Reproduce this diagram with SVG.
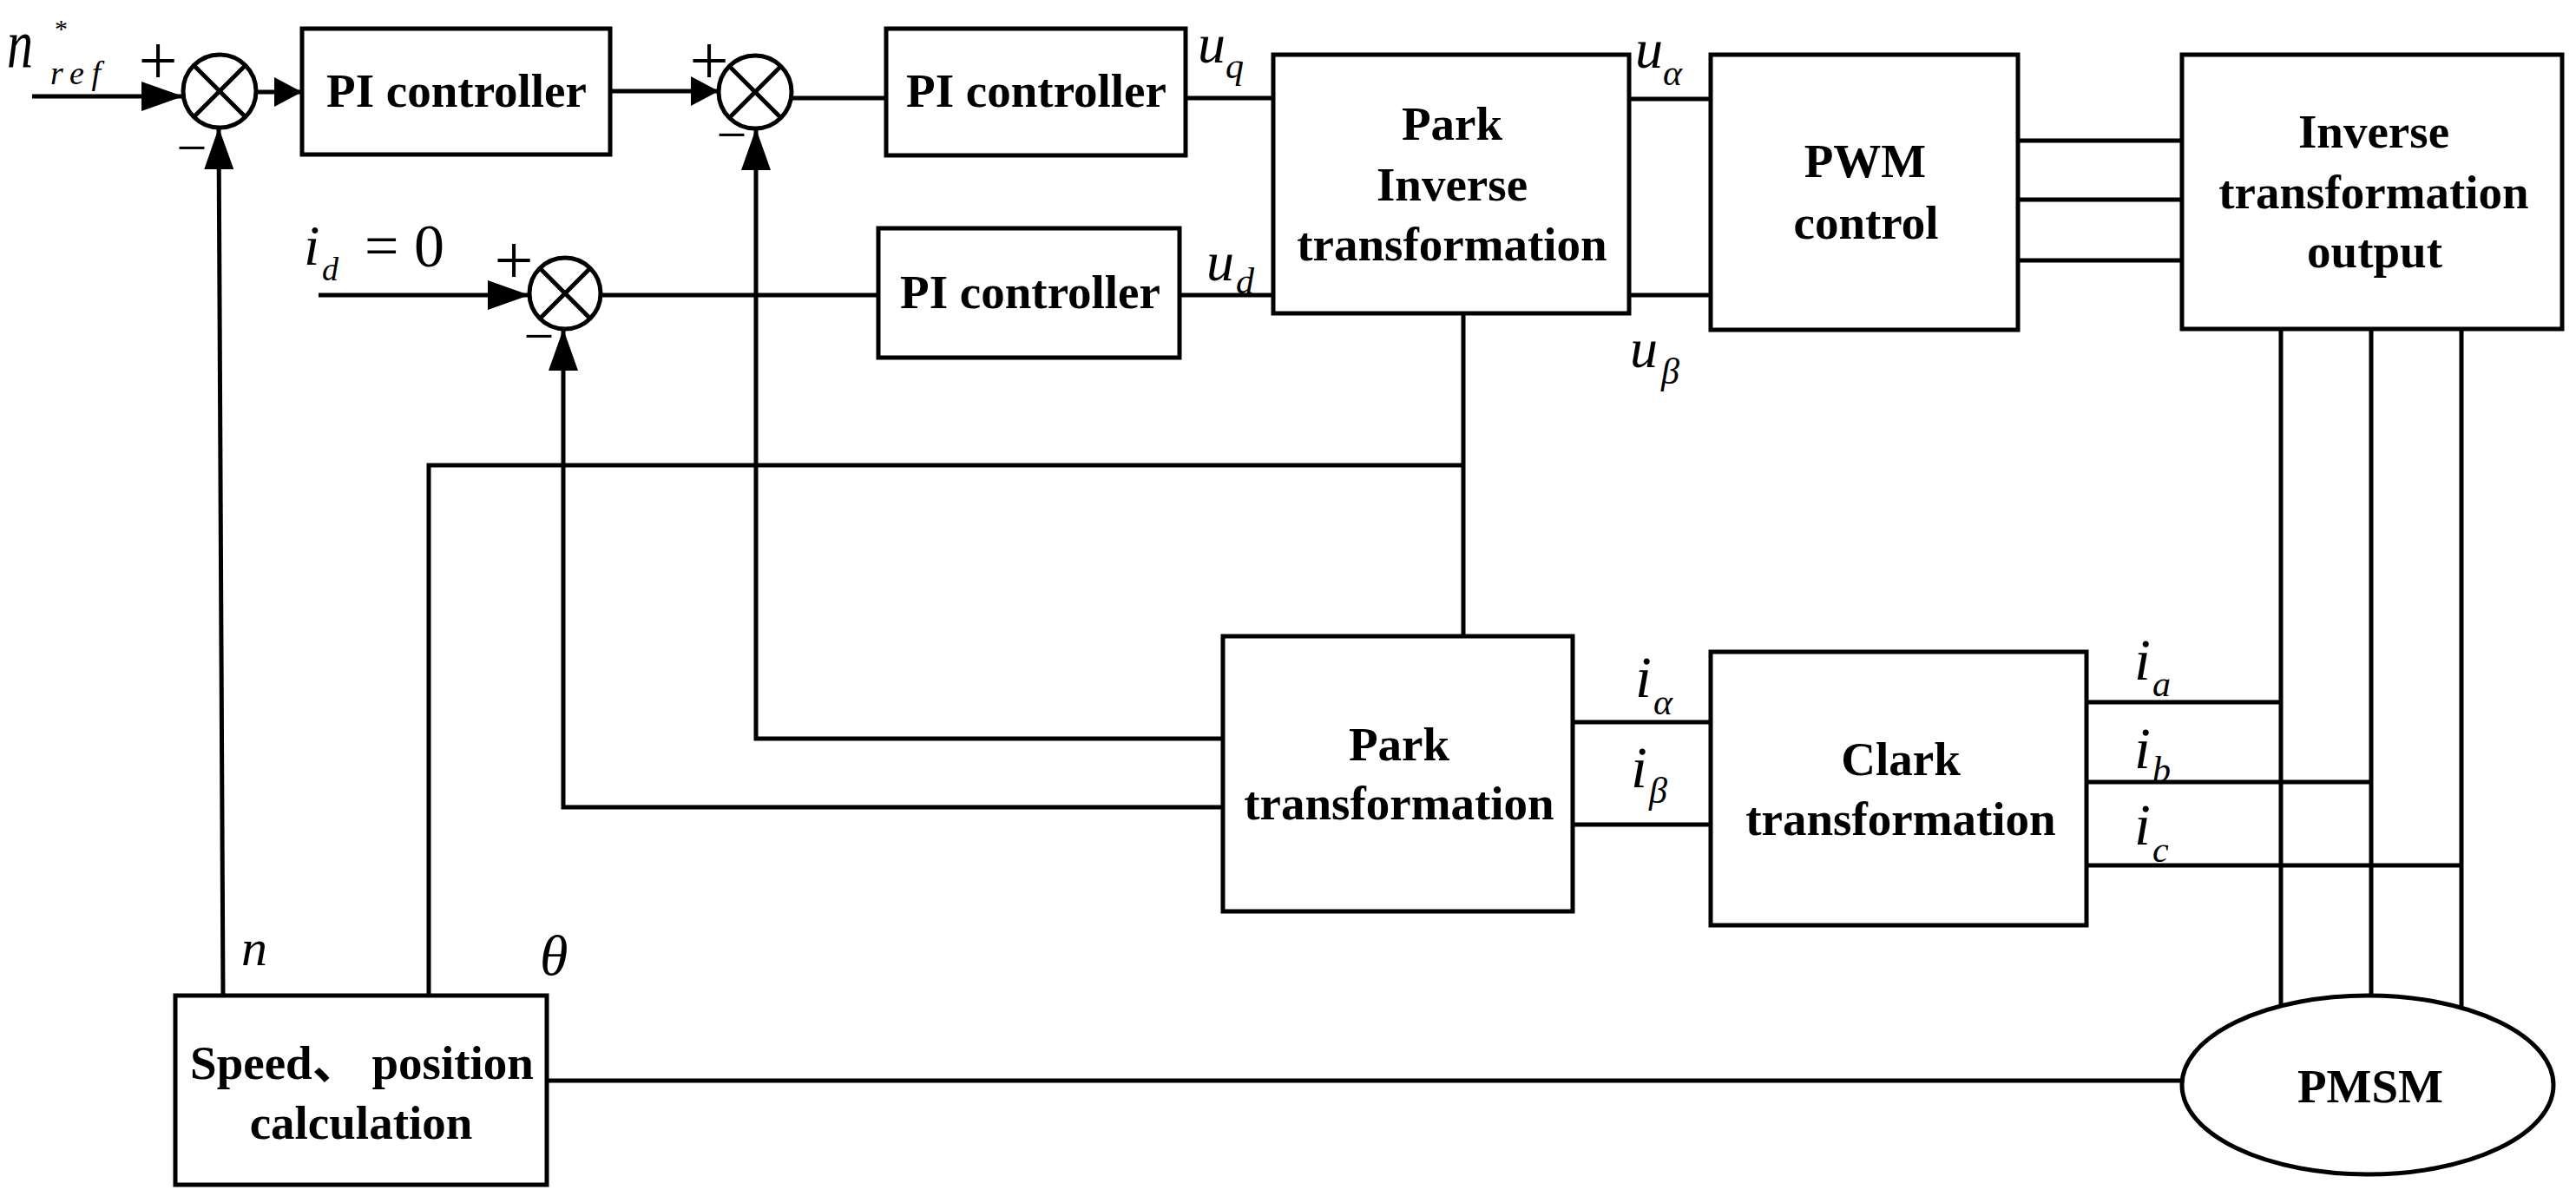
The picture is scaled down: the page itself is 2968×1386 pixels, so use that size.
<svg xmlns="http://www.w3.org/2000/svg" width="2968" height="1386" viewBox="0 0 2968 1386">
<style>
.box{fill:#fff;stroke:#000;stroke-width:5}
.ln{fill:none;stroke:#000;stroke-width:5}
.x{stroke:#000;stroke-width:5}
.t{font-family:"Liberation Serif","Times New Roman","Noto Sans CJK SC",serif;font-weight:bold;font-size:55px;text-anchor:middle;fill:#000}
.m{font-family:"Liberation Serif","Times New Roman",serif;font-style:italic;font-size:64px;fill:#000}
.s{font-family:"Liberation Serif","Times New Roman",serif;font-style:italic;font-size:42px;fill:#000}
.sg{font-family:"Liberation Serif","Times New Roman",serif;font-size:80px;text-anchor:middle;fill:#000}
.mi{font-family:"Liberation Serif","Times New Roman",serif;font-size:62px;text-anchor:middle;fill:#000}
.r{font-family:"Liberation Serif","Times New Roman",serif;font-size:68px;fill:#000}
</style>
<defs>
<marker id="ah" markerUnits="userSpaceOnUse" viewBox="0 0 48 34" markerWidth="48" markerHeight="34" refX="48" refY="17" orient="auto"><path d="M0,0L48,17L0,34z" fill="#000"/></marker>
<marker id="ahs" markerUnits="userSpaceOnUse" viewBox="0 0 32 34" markerWidth="32" markerHeight="34" refX="32" refY="17" orient="auto"><path d="M0,0L32,17L0,34z" fill="#000"/></marker>
</defs>
<rect width="2968" height="1386" fill="#fff"/>
<g id="connectors">
<path class="ln" d="M37,111H211" marker-end="url(#ah)"/>
<path class="ln" d="M295,106H348" marker-end="url(#ahs)"/>
<path class="ln" d="M703,105H828" marker-end="url(#ahs)"/>
<path class="ln" d="M911,113H1021"/>
<path class="ln" d="M1366,113H1467"/>
<path class="ln" d="M367,340H610" marker-end="url(#ah)"/>
<path class="ln" d="M692,340H1012"/>
<path class="ln" d="M1359,340H1467"/>
<path class="ln" d="M1877,114H1971"/>
<path class="ln" d="M1877,340H1971"/>
<path class="ln" d="M2325,162H2514"/>
<path class="ln" d="M2325,230H2514"/>
<path class="ln" d="M2325,300H2514"/>
<path class="ln" d="M2628,379V1159"/>
<path class="ln" d="M2732,379V1147"/>
<path class="ln" d="M2836,379V1161"/>
<path class="ln" d="M1686,361V733"/>
<path class="ln" d="M494,1147V536H1686"/>
<path class="ln" d="M257,1147L252,147" marker-end="url(#ah)"/>
<path class="ln" d="M1409,851H871V148" marker-end="url(#ah)"/>
<path class="ln" d="M1409,930H649V379" marker-end="url(#ah)"/>
<path class="ln" d="M1812,832H1971"/>
<path class="ln" d="M1812,950H1971"/>
<path class="ln" d="M2404,809H2628"/>
<path class="ln" d="M2404,901H2732"/>
<path class="ln" d="M2404,997H2836"/>
<path class="ln" d="M630,1245H2514"/>
</g>
<g id="sum1">
<circle class="box" cx="253" cy="105" r="42"/>
<line class="x" x1="224" y1="76" x2="282" y2="134"/>
<line class="x" x1="282" y1="76" x2="224" y2="134"/>
</g>
<g id="sum2">
<circle class="box" cx="870" cy="106" r="42"/>
<line class="x" x1="841" y1="77" x2="899" y2="135"/>
<line class="x" x1="899" y1="77" x2="841" y2="135"/>
</g>
<g id="sum3">
<circle class="box" cx="651" cy="338" r="41"/>
<line class="x" x1="622" y1="309" x2="680" y2="367"/>
<line class="x" x1="680" y1="309" x2="622" y2="367"/>
</g>
<g id="pi1">
<rect class="box" x="348" y="33" width="355" height="145"/>
<text class="t" x="526" y="123">PI controller</text>
</g>
<g id="pi2">
<rect class="box" x="1021" y="33" width="345" height="146"/>
<text class="t" x="1194" y="123">PI controller</text>
</g>
<g id="pi3">
<rect class="box" x="1012" y="263" width="347" height="149"/>
<text class="t" x="1187" y="355">PI controller</text>
</g>
<g id="parkinv">
<rect class="box" x="1467" y="63" width="410" height="298"/>
<text class="t" x="1673" y="161">Park</text>
<text class="t" x="1673" y="231">Inverse</text>
<text class="t" x="1673" y="300">transformation</text>
</g>
<g id="pwm">
<rect class="box" x="1971" y="63" width="354" height="317"/>
<text class="t" x="2149" y="204">PWM</text>
<text class="t" x="2150" y="275">control</text>
</g>
<g id="invout">
<rect class="box" x="2514" y="63" width="438" height="316"/>
<text class="t" x="2735" y="170">Inverse</text>
<text class="t" x="2735" y="240">transformation</text>
<text class="t" x="2736" y="308">output</text>
</g>
<g id="park">
<rect class="box" x="1409" y="733" width="403" height="317"/>
<text class="t" x="1612" y="876">Park</text>
<text class="t" x="1612" y="944">transformation</text>
</g>
<g id="clark">
<rect class="box" x="1971" y="751" width="433" height="315"/>
<text class="t" x="2190" y="893">Clark</text>
<text class="t" x="2190" y="962">transformation</text>
</g>
<g id="speed">
<rect class="box" x="202" y="1147" width="428" height="218"/>
<text class="t" x="417" y="1243">Speed、 position</text>
<text class="t" x="416" y="1312">calculation</text>
</g>
<g id="pmsm">
<ellipse class="box" cx="2728" cy="1250" rx="214" ry="103"/>
<text class="t" x="2731" y="1270">PMSM</text>
</g>
<g id="labels">
<text class="m" x="8" y="77" style="font-size:80px" textLength="30" lengthAdjust="spacingAndGlyphs">n</text>
<text class="r" x="63" y="43" style="font-size:30px">*</text>
<text class="s" x="58" y="97" style="font-size:38px" textLength="58" lengthAdjust="spacing">ref</text>
<text class="sg" x="182" y="97">+</text>
<text class="mi" x="221" y="191">−</text>
<text class="sg" x="817" y="97">+</text>
<text class="mi" x="843" y="176">−</text>
<text class="sg" x="592" y="327">+</text>
<text class="mi" x="621" y="408">−</text>
<text class="m" x="350" y="305" style="font-size:66px">i</text>
<text class="s" x="371" y="323" style="font-size:38px">d</text>
<text class="r" x="420" y="307" style="font-size:70px">= 0</text>
<text class="m" x="1380" y="72">u</text>
<text class="s" x="1412" y="90">q</text>
<text class="m" x="1390" y="323">u</text>
<text class="s" x="1424" y="338">d</text>
<text class="m" x="1884" y="78">u</text>
<text class="s" x="1916" y="98">α</text>
<text class="m" x="1878" y="423">u</text>
<text class="s" x="1914" y="442">β</text>
<text class="m" x="1884" y="803" style="font-size:68px">i</text>
<text class="s" x="1905" y="823">α</text>
<text class="m" x="1879" y="907" style="font-size:68px">i</text>
<text class="s" x="1900" y="925">β</text>
<text class="m" x="2459" y="783" style="font-size:68px">i</text>
<text class="s" x="2480" y="802">a</text>
<text class="m" x="2459" y="885" style="font-size:68px">i</text>
<text class="s" x="2480" y="901">b</text>
<text class="m" x="2459" y="973" style="font-size:68px">i</text>
<text class="s" x="2480" y="993">c</text>
<text class="m" x="278" y="1112" style="font-size:60px">n</text>
<text class="m" x="622" y="1123" style="font-size:66px">θ</text>
</g>
</svg>
